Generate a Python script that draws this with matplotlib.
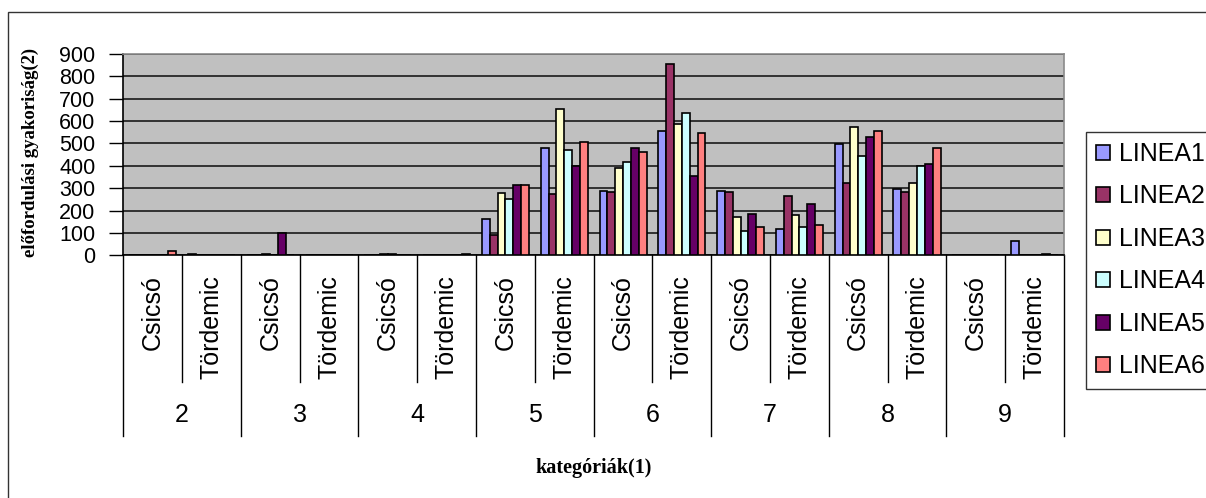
import numpy as np
import matplotlib
matplotlib.use("Agg")
import matplotlib.pyplot as plt
from matplotlib.patches import Rectangle
from matplotlib.lines import Line2D

# kategóriák: 2..9, minden csoportban Csicsó és Tördemic
groups = ["2", "3", "4", "5", "6", "7", "8", "9"]
sub_labels = ["Csicsó", "Tördemic"]
series_names = ["LINEA1", "LINEA2", "LINEA3", "LINEA4", "LINEA5", "LINEA6"]

linea1 = [0, 8, 0, 0, 0, 0, 162, 481, 289, 554, 289, 119, 499, 298, 0, 64]
linea2 = [0, 0, 0, 0, 0, 0, 89, 273, 282, 854, 282, 264, 325, 282, 0, 0]
linea3 = [0, 0, 5, 0, 5, 0, 280, 654, 392, 587, 173, 182, 572, 325, 0, 0]
linea4 = [0, 0, 0, 0, 5, 0, 253, 472, 417, 636, 109, 128, 445, 399, 0, 0]
linea5 = [0, 0, 100, 0, 0, 0, 316, 399, 481, 354, 183, 228, 527, 410, 0, 5]
linea6 = [18, 0, 0, 0, 0, 5, 316, 508, 463, 545, 128, 137, 554, 481, 0, 0]
series = [linea1, linea2, linea3, linea4, linea5, linea6]

colors = ["#9999FF", "#993366", "#FFFFCC", "#CCFFFF", "#660066", "#FF8080"]

W, H = 1206, 498
fig = plt.figure(figsize=(W / 100, H / 100), dpi=100)

# külső keret
fig.patches.append(Rectangle((8 / W, -0.1), 1.2, 1 - 12 / H + 0.1,
                             transform=fig.transFigure, fill=False,
                             edgecolor="#333333", linewidth=1.0))

left, right, top, bottom = 123.3, 1064, 54, 255.3
ax = fig.add_axes([left / W, 1 - bottom / H, (right - left) / W, (bottom - top) / H])
ax.set_facecolor("#C0C0C0")

n_cat = len(groups) * len(sub_labels)
n_ser = len(series)
bw = 1 / (n_ser + 1.5)
x = np.arange(n_cat)
for i, (vals, c, name) in enumerate(zip(series, colors, series_names)):
    ax.bar(x + 0.75 * bw + i * bw, vals, width=bw, align="edge", color=c,
           edgecolor="black", linewidth=1.2, label=name, zorder=3)

ax.set_xlim(0, n_cat)
ax.set_ylim(0, 900)
ax.set_yticks(np.arange(0, 901, 100))
ax.yaxis.grid(True, color="#1a1a1a", linewidth=1.2, zorder=1)
ax.set_axisbelow(True)
ax.set_xticks([])
ax.tick_params(axis="y", direction="out", length=10, width=1, pad=10,
               labelsize=15.5)
for lbl in ax.get_yticklabels():
    lbl.set_family("Liberation Sans")

for s in ["top", "right"]:
    ax.spines[s].set_color("#8a8a8a")
    ax.spines[s].set_linewidth(1.2)
for s in ["left", "bottom"]:
    ax.spines[s].set_color("black")
    ax.spines[s].set_linewidth(1.2)

# többszintű kategóriatengely
ph = bottom - top
def ay(py):
    return (bottom - py) / ph

tr = ax.get_xaxis_transform()
for k in range(n_cat + 1):
    y_end = ay(435.5) if k % 2 == 0 else ay(381.7)
    ax.add_line(Line2D([k, k], [0, y_end], transform=tr, color="black",
                       linewidth=1.0, clip_on=False))
for k in range(n_cat):
    ax.text(k + 0.5, ay(275), sub_labels[k % 2], transform=tr, rotation=90,
            ha="center", va="top", fontsize=18, family="Liberation Sans")
for g, name in enumerate(groups):
    ax.text(2 * g + 1, ay(415), name, transform=tr, ha="center", va="center",
            fontsize=18, family="Liberation Sans")

ax.text(n_cat / 2, ay(468), "kategóriák(1)", transform=tr, ha="center",
        va="center", fontsize=14.5, fontweight="bold", family="Liberation Serif")
fig.text(30 / W, 1 - 152 / H, "előfordulási gyakoriság(2)", rotation=90,
         ha="center", va="center", fontsize=13.5, fontweight="bold",
         family="Liberation Serif")

leg = fig.legend(loc="upper left", bbox_to_anchor=(1086 / W, 1 - 131.7 / H),
                 frameon=True, fancybox=False, shadow=False,
                 prop={"family": "Liberation Sans", "size": 18},
                 handlelength=0.55, handleheight=0.55, handletextpad=0.37,
                 labelspacing=0.74, borderpad=0.41, borderaxespad=0)
leg.get_frame().set_edgecolor("black")
leg.get_frame().set_linewidth(1.0)

fig.savefig("out.png", dpi=100)
